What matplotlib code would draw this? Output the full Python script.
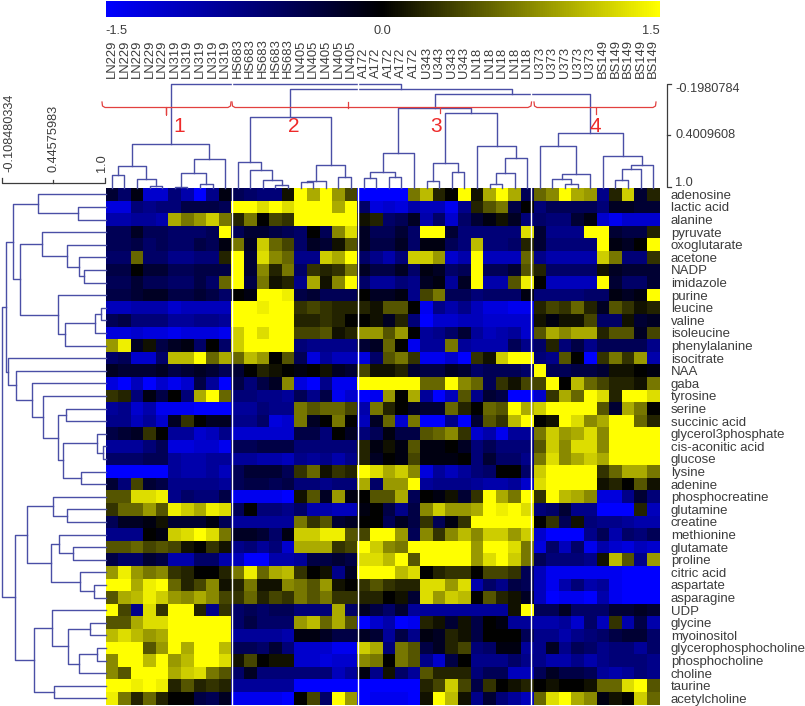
import numpy as np
import matplotlib
matplotlib.use("Agg")
import matplotlib.pyplot as plt
from matplotlib.collections import LineCollection
from matplotlib.colors import LinearSegmentedColormap

plt.rcParams["font.family"] = ["Liberation Sans", "DejaVu Sans"]

metabolites = ["adenosine", "lactic acid", "alanine", "pyruvate", "oxoglutarate", "acetone", "NADP",
               "imidazole", "purine", "leucine", "valine", "isoleucine", "phenylalanine", "isocitrate",
               "NAA", "gaba", "tyrosine", "serine", "succinic acid", "glycerol3phosphate",
               "cis-aconitic acid", "glucose", "lysine", "adenine", "phosphocreatine", "glutamine",
               "creatine", "methionine", "glutamate", "proline", "citric acid", "aspartate",
               "asparagine", "UDP", "glycine", "myoinositol", "glycerophosphocholine",
               "phosphocholine", "choline", "taurine", "acetylcholine"]
samples = (["LN229"] * 5 + ["LN319"] * 5 + ["HS683"] * 5 + ["LN405"] * 5 + ["A172"] * 5
           + ["U343"] * 4 + ["LN18"] * 5 + ["U373"] * 5 + ["BS149"] * 5)

# values in tenths, one array per cluster
cluster1 = [
    [-3, -6, -1, -12, -12, -7, -10, -15, -8, -1],
    [-13, -13, -7, -8, -7, -7, -4, -4, -4, -5],
    [-10, -10, -9, -9, -10, 10, 7, 9, 12, 7],
    [-5, -5, -2, -5, -5, -6, -6, -6, -5, 15],
    [-5, -5, -4, -6, -5, -6, -6, -4, -5, -1],
    [-6, -6, 6, -6, -6, -8, -8, -7, -7, 2],
    [-4, -4, 0, -3, -3, -5, -5, -4, -4, -4],
    [-5, -5, -3, -5, -5, -6, -6, -4, -6, 6],
    [-4, -4, -3, -2, -2, -4, -4, -3, -4, -6],
    [-11, -11, -10, -10, -10, -12, -11, -11, -11, -11],
    [-5, -4, -7, -7, -7, -9, -9, -8, -8, -9],
    [-13, -13, -12, -13, -13, -14, -13, -13, -13, -14],
    [9, 14, -2, 1, -4, -2, -1, -6, 0, -6],
    [-6, -5, -12, -12, -6, 11, 11, 15, 6, 10],
    [-2, -3, -3, -3, -2, -4, -3, -2, -3, -5],
    [-13, -15, -11, -15, -12, -14, -12, -4, -9, -15],
    [3, 2, -7, -1, -4, 0, -7, 10, 15, 6],
    [-9, -8, -12, -10, -14, -14, -14, -15, -15, -15],
    [-8, -8, -11, -9, -12, -2, 3, 0, -2, -2],
    [-4, -3, -2, 3, 0, -9, -9, -12, -11, -8],
    [-9, -9, -9, -7, -5, -13, -13, -12, -12, -14],
    [-6, -6, -6, -5, -5, -9, -10, -10, -9, -9],
    [-15, -15, -15, -15, -15, -9, -10, -10, -9, -11],
    [-3, -7, 4, -3, -4, -8, -8, -8, -8, -9],
    [5, 5, 13, 13, 14, -8, -6, -7, -7, -4],
    [3, 6, 6, 9, 5, 14, 12, 10, 14, 13],
    [-5, -2, -2, -1, 1, -3, -3, -3, -1, -5],
    [-8, -8, -8, 0, -1, 12, 13, 15, 13, 7],
    [5, 5, 6, 4, 5, 4, 1, 0, 3, 1],
    [-4, -6, -6, -3, -4, -10, -10, -6, -6, -10],
    [9, 14, 9, 7, 8, 3, 2, 0, 0, 2],
    [15, 15, 10, 14, 15, 6, 2, 4, 8, 1],
    [5, 10, 11, 14, 12, 9, 8, 10, 8, 4],
    [15, 4, -8, 13, 3, 15, 15, 2, -8, 3],
    [5, 5, 10, 13, 13, 15, 15, 15, 15, 15],
    [11, 13, 11, 9, 10, 15, 15, 15, 15, 15],
    [15, 15, 15, 5, 9, 15, 10, 15, 15, 11],
    [8, 15, 15, 11, 15, 9, 11, 15, 15, 13],
    [8, 5, 15, 15, 15, 10, 12, 13, 7, 5],
    [15, 15, 14, 15, 14, 2, 5, 2, 3, 2],
    [14, 7, 2, 6, 2, 0, 0, -4, -5, -2],
]
cluster2 = [
    [-5, -6, -7, -7, 1, 15, 10, 15, 9, 4],
    [15, 15, 13, 15, 13, 15, 15, 15, 10, 15],
    [2, 7, 0, 4, 3, 15, 15, 15, 15, 15],
    [-5, -3, -3, -4, -5, -6, 0, -5, 8, 13],
    [7, -2, 12, 6, 4, -6, -2, -3, 1, 5],
    [15, -3, 13, 8, 6, -8, -8, 12, 10, 15],
    [15, -3, 8, 2, 7, -6, 3, 2, 3, 7],
    [15, -4, 7, 1, 2, -8, 10, 1, 8, 15],
    [0, -1, 15, 15, 14, -4, -3, -5, -5, -5],
    [15, 15, 14, 15, 15, 3, 4, 3, 2, 2],
    [15, 15, 15, 15, 15, 2, 2, 3, 2, 0],
    [12, 15, 13, 15, 15, 4, 4, 5, 1, 2],
    [12, 15, 15, 15, 15, -7, -8, -8, -8, -8],
    [6, 11, 9, 0, 5, -5, -13, -9, -11, -11],
    [-3, 0, 2, 1, 0, -1, 0, 1, -2, -3],
    [-4, -7, -4, -2, 8, -13, -15, -8, -14, -14],
    [-7, -7, -8, -8, -9, -5, -8, -4, -14, -12],
    [-9, -9, -7, -8, -8, 7, 5, 6, 6, 4],
    [-8, -8, -6, -13, -12, 7, -2, 0, 7, 0],
    [-12, -12, -12, -12, -12, -4, -4, -7, 0, -2],
    [-5, -5, -4, -4, -4, -7, -7, -7, -7, -7],
    [-9, -9, -10, -10, -11, -8, -9, -8, -10, -8],
    [-5, -3, -3, -3, -5, 3, 6, 1, 3, 2],
    [-5, -4, -4, -5, -4, -7, -7, -8, -7, -7],
    [-14, -14, -14, -14, -15, 1, 5, -2, 9, -1],
    [-5, 0, -7, -7, -8, -6, -10, -10, -11, -11],
    [-9, -9, -9, -9, -9, 7, 3, 5, -3, -2],
    [-2, -2, -3, -6, -1, 12, 12, 14, 14, 5],
    [-8, -7, -9, -7, -12, 10, 10, 10, 3, 4],
    [-11, -15, -15, -10, -10, -9, -4, -4, -3, -4],
    [7, 14, 6, 10, 11, 3, 0, 1, -8, -2],
    [2, 7, 1, 1, 8, 7, 5, 9, 1, 0],
    [3, 6, 2, 4, 3, 7, 5, 7, 3, 3],
    [-6, -5, -6, -5, -5, -7, -7, -7, 10, -6],
    [-6, -4, -6, -6, -6, 9, 11, 6, 10, 5],
    [-9, -9, -9, -9, -10, -1, -1, -2, -4, -4],
    [-5, -5, -6, -3, -7, -12, -12, -12, -14, -14],
    [1, 4, 0, 1, 1, -12, -12, -13, -12, -12],
    [-6, -2, -7, -7, -7, -7, -7, -7, -11, -9],
    [-9, -9, -9, -9, -9, -15, -15, -15, -15, -15],
    [-14, -14, -14, -14, -15, 0, 4, -6, 15, 9],
]
cluster3 = [
    [-15, -15, -15, -15, 7, 11, 2, 0, 15, 1, 10, 15, 10, -5],
    [-6, -13, -12, -13, -10, -11, -11, -14, -8, 2, 5, 7, -4, 0],
    [1, 2, -6, -5, -2, -10, -6, -12, -6, -3, -1, 1, -2, -7],
    [-2, -5, -5, -3, -6, 15, 15, -3, -7, -7, -7, -7, -7, 13],
    [-2, -4, -4, -2, -6, -1, -1, -5, -7, 11, -7, -7, -6, 2],
    [-6, -8, -10, -7, 12, 12, 9, -12, -10, 15, -11, -11, -11, 6],
    [-2, -4, -4, -2, -6, -1, -2, -6, -5, 15, -5, -5, -3, 5],
    [-6, -9, -9, -7, -8, -2, -1, -9, -2, 15, -10, -10, 5, 14],
    [0, -2, -2, -1, -8, 4, 7, -5, -5, -7, -6, -6, -6, -1],
    [2, 1, 5, 5, 0, -14, -8, -10, -8, -11, -13, -13, -14, -14],
    [0, 1, -2, 2, -7, -15, -12, -12, -11, -11, -12, -12, -12, -12],
    [9, 9, 5, 9, 0, -9, -8, -6, -3, -9, -11, -10, -9, -12],
    [-3, -2, 6, 0, -14, -9, -9, 7, -9, -10, -10, -10, -5, -8],
    [-13, -6, 5, 7, 3, -14, -14, -12, -15, 3, 1, 12, 15, 15],
    [4, 1, 1, 2, -3, -4, -4, -2, -3, -6, -5, -5, -5, -6],
    [15, 15, 15, 15, 15, 6, 6, 15, 8, 6, -5, 3, 1, 4],
    [-15, -14, 9, 0, 10, -9, -15, -11, 5, -8, -3, -4, -15, -15],
    [-10, 7, 2, 0, -2, -3, -3, 6, 2, 0, 6, 5, 15, 10],
    [-11, -2, 6, -12, 7, -15, -15, -8, -15, -3, 5, 3, 11, 15],
    [-7, -5, -1, -4, -4, 5, 6, 8, 3, -12, -10, -14, -9, -9],
    [2, -1, 1, -1, 5, -1, -1, 0, -2, -7, -5, -7, -7, -7],
    [2, -2, 0, -1, 4, -1, -1, -1, 0, -7, -3, -6, -6, -8],
    [15, 13, 10, 12, 8, -13, -9, -11, -9, -7, -6, 0, 0, -6],
    [10, -6, 9, 9, 15, -9, -8, -8, -8, -9, -10, -10, -9, -12],
    [0, 5, 5, 10, -5, 0, -1, 1, -3, 3, 15, 10, 7, 15],
    [-1, 0, -4, -8, -4, 8, 12, 9, 9, 10, 15, 14, 15, 13],
    [0, 0, -5, -2, -4, 3, -5, -1, 3, 15, 15, 15, 15, 15],
    [4, 15, 15, 9, -5, 8, 3, 8, 11, 8, 12, 12, 9, 12],
    [15, 12, 8, 7, 15, 15, 15, 15, 15, 9, 15, 15, 13, 7],
    [13, 13, 11, 15, 5, 15, 15, 15, 15, 9, 13, 15, 12, 7],
    [15, 15, 15, 11, 13, 0, 2, 3, 3, 0, 4, 4, 3, -5],
    [3, 5, 3, 2, 2, 13, 13, 9, 13, -10, -6, -8, -4, -5],
    [2, 2, 0, 1, -3, 13, 9, 12, 11, 0, 5, 2, 1, -2],
    [-2, -4, -6, -3, -9, -9, -9, -9, -9, -9, -9, -9, 1, 15],
    [-15, -12, -10, -15, -14, 2, 1, -3, 1, -4, 0, -1, -9, -9],
    [-2, -3, -9, -4, -8, -1, -2, 2, 1, -4, 0, 0, 0, -5],
    [12, 10, -7, 7, 5, -4, -2, 2, 4, -7, -6, -1, -1, -9],
    [8, 7, 0, 7, 5, -8, -12, -4, 0, -8, -8, -8, -6, -8],
    [-1, -8, 1, -6, -9, 5, 2, 2, 2, -7, -5, -5, -11, -11],
    [-15, -15, -15, -15, -15, 2, 4, 12, 4, -4, 3, 0, 1, 2],
    [-15, -14, -14, -14, -15, 1, 15, 11, 1, -8, -3, -7, -9, -11],
]
cluster4 = [
    [6, 8, 15, 10, 9, -8, 2, 12, -3, 2],
    [-7, -5, -5, -5, -5, -7, -2, -2, -3, -3],
    [-6, -7, -7, -3, -1, -12, -14, -12, -12, -12],
    [-3, -8, -8, -8, 15, 15, -3, -4, -4, 2],
    [-3, -7, -7, -7, -7, 15, -1, -2, 0, 15],
    [-8, -10, -10, -10, -10, 12, 7, -7, -7, 3],
    [2, -6, -6, -6, -6, 1, -2, -3, -3, -3],
    [0, -11, -11, -11, -11, 15, -3, -6, -6, -3],
    [-7, -7, -7, -7, -6, -6, -1, -2, -1, 15],
    [2, 4, 3, 6, 2, -2, 5, 3, 1, 2],
    [1, -1, 1, 1, 4, -6, -6, 1, -3, -2],
    [5, 10, 8, 10, 10, 2, 5, 5, -2, 4],
    [-6, 2, -7, -4, -8, -5, -5, -5, -5, -8],
    [-7, -8, 5, 0, -15, 3, 7, 3, 9, -10],
    [15, -5, -5, -4, -4, -3, 1, 1, 0, -1],
    [4, 15, 0, 11, 6, 4, 2, 2, 1, 7],
    [-12, 3, 10, 6, 15, 13, 2, 15, 15, 13],
    [12, 15, 15, 15, 15, 5, -3, 10, 7, 0],
    [0, 1, 15, 13, 8, 10, 15, 15, 6, 2],
    [7, 12, 9, 10, 13, 8, 15, 15, 15, 15],
    [5, 12, 8, 13, 13, 8, 15, 15, 15, 15],
    [7, 13, 8, 10, 12, 10, 15, 15, 15, 15],
    [12, 15, 15, 15, 15, 3, 6, 10, 10, 7],
    [13, 15, 15, 15, 15, 1, 2, 0, 5, 1],
    [3, 15, 11, 10, 8, -13, -13, -8, -3, -7],
    [-7, -6, -3, -8, -8, -15, -15, -15, 2, -11],
    [0, 3, -5, 1, -7, -8, -8, -9, -10, -10],
    [-12, -15, -15, -15, -8, -5, -10, -6, -7, -5],
    [-13, -6, -11, -6, -14, -10, -12, -13, -11, -12],
    [-5, -7, -7, -7, -8, 1, 11, 5, -8, 9],
    [-11, -14, -14, -14, -14, -14, -14, -15, -15, -15],
    [-11, -14, -10, -7, -10, -9, -14, -15, -15, -15],
    [-11, -15, -14, -14, -15, -10, -14, -15, -15, -15],
    [-5, -5, -2, -6, -6, -6, -3, -3, -2, -3],
    [-10, -10, -9, -12, -6, -11, 3, -10, -4, -10],
    [-8, -8, -10, -8, -7, -6, -4, -3, -3, -6],
    [-8, -2, -8, -5, -6, -8, -7, -7, -9, -6],
    [-8, -10, -10, -8, -10, -8, -7, -7, -7, -8],
    [-5, -2, -4, -4, -5, -9, -10, -9, -7, -8],
    [0, 1, 0, 0, 1, 6, 6, 13, 15, 5],
    [6, 13, 15, 10, 8, -1, 1, 0, 12, 6],
]

# dendrograms as [correlation at merge, child, child], ints are leaves
col_g1 = [0.5, [0.756, [0.86, 0, 1], [0.895, 2, [0.977, 3, 4]]],
          [0.674, [0.826, [0.988, 5, 6], [0.953, 7, 8]], 9]]
col_g2 = [0.186, [0.709, 10, [0.802, 11, [0.907, 12, [0.965, 13, 14]]]],
          [0.744, [0.919, [0.936, 15, 16], 17], [0.872, 18, 19]]]
col_g3 = [0.081, [0.605, [0.814, [0.884, 20, 21], [0.872, 22, 23]], 24],
          [0.14, [0.721, [0.919, 25, 26], [0.814, 27, 28]],
           [0.523, 29, [0.663, [0.826, [0.953, 30, 31], 32], 33]]]]
col_g4 = [0.372, [0.523, 34, [0.837, [0.895, 35, [0.953, 36, 37]], 38]],
          [0.64, 39, [0.733, [0.79, [0.907, 40, 41], 42], 43]]]
col_tree = [-0.198, col_g1, [-0.14, col_g2, [-0.081, col_g3, col_g4]]]

row_a = [0.011, [0.28, 0, [0.71, 1, 2]],
         [0.086, [0.323, 3, [0.591, 4, [0.72, 5, [0.774, 6, 7]]]],
          [0.495, 8, [0.57, [0.892, [0.957, 9, 10], 11], 12]]]]
row_b = [-0.043, 13, [0.043, 14, [0.215, 15, [0.333, 16,
         [0.495, [0.581, 17, 18], [0.548, [0.914, 19, [0.978, 20, 21]], [0.742, 22, 23]]]]]]]
row_c = [0.032, [0.161, [0.441, 24, [0.591, 25, 26]],
                 [0.419, [0.505, 27, [0.656, 28, 29]], [0.731, 30, [0.882, 31, 32]]]],
         [0.237, [0.43, 33, [0.602, [0.839, 34, 35], [0.72, [0.914, 36, 37], 38]]],
          [0.452, 39, 40]]]
row_tree = [-0.108, [-0.065, row_a, row_b], row_c]

W, H = 805, 706
HX0, HX1, HY0, HY1 = 105.5, 659.5, 188, 704.6
TREE_COLOR = "#4a4fa6"
RED = "#e2403f"
GREY = "#3c3c3c"


def px_axes(x0, y0, x1, y1):
    return fig.add_axes([x0 / W, 1 - y1 / H, (x1 - x0) / W, (y1 - y0) / H])


def tree_segments(node, segs):
    # returns leaf-axis position of the node, its height
    if isinstance(node, int):
        return node + 0.5, 1.0
    h, a, b = node
    pa, ha = tree_segments(a, segs)
    pb, hb = tree_segments(b, segs)
    segs.append([(pa, ha), (pa, h), (pb, h), (pb, hb)])
    return (pa + pb) / 2, h


fig = plt.figure(figsize=(W / 100, H / 100), dpi=100)

values = np.hstack([cluster1, cluster2, cluster3, cluster4]) / 10
cmap = LinearSegmentedColormap.from_list("by", ["#0000ff", "#000000", "#ffff00"])

ax = px_axes(HX0, HY0, HX1, HY1)
mesh = ax.pcolormesh(values, cmap=cmap, vmin=-1.5, vmax=1.5)
ax.set_ylim(len(metabolites), 0)
ax.set_xticks([])
ax.yaxis.tick_right()
ax.set_yticks(np.arange(len(metabolites)) + 0.5, metabolites)
ax.tick_params(axis="y", length=0, pad=8.2, labelsize=9.5, labelcolor=GREY)
for s in ax.spines.values():
    s.set_visible(False)

# colour bar
cax = px_axes(HX0, 1, HX1, 16.5)
cb = fig.colorbar(mesh, cax=cax, orientation="horizontal")
cb.outline.set_visible(False)
cb.set_ticks([-1.5, 0, 1.5], labels=["-1.5", "0.0", "1.5"])
cax.tick_params(length=0, pad=6, labelsize=9.2, labelcolor=GREY)
cax.get_xticklabels()[0].set_ha("left")
cax.get_xticklabels()[2].set_ha("right")

# column dendrogram, correlation axis runs 1.0 at the heat map up to the top merge
tax = px_axes(HX0, 84, HX1, 187.6)
segs = []
tree_segments(col_tree, segs)
tax.add_collection(LineCollection(segs, colors=TREE_COLOR, linewidths=1.0, capstyle="projecting", clip_on=False))
tax.set_xlim(0, len(samples))
tax.set_ylim(1.0, -0.198)
tax.xaxis.tick_top()
tax.set_xticks(np.arange(len(samples)) + 0.5, samples, rotation=90)
tax.tick_params(axis="x", length=0, pad=4.6, labelsize=9.4, labelcolor=GREY)
tax.set_yticks([])
tax.patch.set_alpha(0)
for s in tax.spines.values():
    s.set_visible(False)

# row dendrogram
lax = px_axes(1.7, HY0, HX0, HY1)
segs = []
tree_segments(row_tree, segs)
segs = [[(y, x) for x, y in s] for s in segs]
lax.add_collection(LineCollection(segs, colors=TREE_COLOR, linewidths=1.0, capstyle="projecting", clip_on=False))
lax.set_xlim(-0.108, 1.0)
lax.set_ylim(len(metabolites), 0)
lax.axis("off")

# overlay in pixel coordinates for the scales, brackets and separators
over = fig.add_axes([0, 0, 1, 1])
over.set_xlim(0, W)
over.set_ylim(H, 0)
over.axis("off")
over.patch.set_alpha(0)

for x in [231.5, 358.2, 531.2]:
    over.plot([x, x], [83, HY1], color="white", lw=1.0)

# scale bars
over.plot([1.7, 1.7, 105, 105], [178, 183, 183, 178], color=GREY, lw=0.9)
over.plot([53.3, 53.3], [180, 183], color=GREY, lw=0.9)
for x, t in [(9, "-0.108480334"), (53.5, "0.44575983"), (102, "1.0")]:
    over.text(x, 172, t, rotation=90, ha="center", va="bottom", fontsize=9.2, color=GREY)
over.plot([671, 667, 667, 671], [84, 84, 187, 187], color=GREY, lw=0.9)
over.plot([667, 670], [135, 135], color=GREY, lw=0.9)
for y, t in [(89, "-0.1980784"), (134.5, "0.4009608"), (182.5, "1.0")]:
    over.text(675, y, t, ha="left", va="center", fontsize=9.2, color=GREY)

# red cluster brackets
over.plot([102, 102.5, 105, 164, 166.5, 166.5, 166.5, 169, 228, 230.5, 231],
          [102, 106, 107.5, 107.5, 107.5, 115, 107.5, 107.5, 107.5, 106, 102], color=RED, lw=0.9)
over.plot([232, 232.5, 235, 528, 531, 531.5], [102, 106, 107.5, 107.5, 106, 102], color=RED, lw=0.9)
over.plot([347.5, 347.5], [101.5, 107.5], color=RED, lw=0.9)
over.plot([439.5, 439.5], [107.5, 113], color=RED, lw=0.9)
over.plot([534, 534.5, 537, 653, 655.5, 656], [102, 106, 107.5, 107.5, 106, 102], color=RED, lw=0.9)
over.plot([596, 596], [107.5, 114], color=RED, lw=0.9)
for x, t in [(179, "1"), (294, "2"), (436, "3"), (595, "4")]:
    over.text(x, 127, t, ha="center", va="center", fontsize=15, color="#ee2a2a")

fig.savefig("out.png", dpi=100)
